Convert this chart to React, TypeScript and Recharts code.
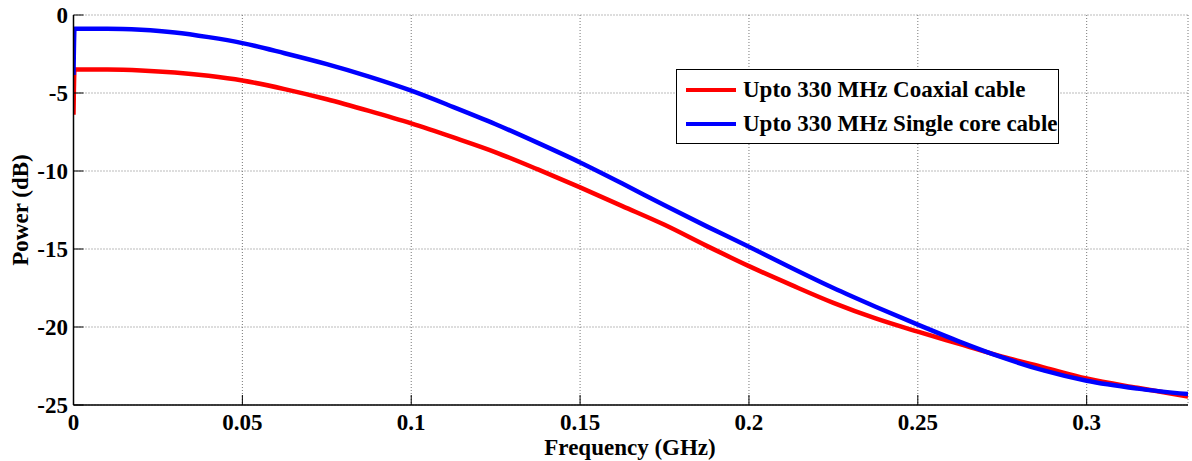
import { CartesianGrid, Legend, Line, LineChart, XAxis, YAxis } from 'recharts'

document.body.style.margin = '0'

const FONT = '"Liberation Serif", "Times New Roman", serif'

// frequency in GHz
const freq = [
  0, 0.0003, 0.01, 0.02, 0.03, 0.04, 0.05, 0.0625, 0.075, 0.0875, 0.1, 0.1125, 0.125, 0.1375, 0.15, 0.1625, 0.175,
  0.1875, 0.2, 0.2125, 0.225, 0.2375, 0.25, 0.2625, 0.275, 0.2875, 0.3, 0.315, 0.33,
]
// power in dB
const coaxial = [
  -6.4, -3.5, -3.5, -3.55, -3.68, -3.9, -4.2, -4.75, -5.4, -6.15, -6.95, -7.85, -8.8, -9.9, -11.05, -12.25, -13.45,
  -14.8, -16.1, -17.3, -18.45, -19.45, -20.3, -21.1, -21.9, -22.6, -23.3, -23.9, -24.45,
]
const singleCore = [
  -3.85, -0.88, -0.88, -0.95, -1.12, -1.42, -1.8, -2.45, -3.15, -3.95, -4.85, -5.9, -7.0, -8.2, -9.45, -10.8, -12.2,
  -13.55, -14.85, -16.2, -17.5, -18.7, -19.85, -20.95, -21.95, -22.8, -23.45, -23.95, -24.3,
]
const xTicks = [0, 0.05, 0.1, 0.15, 0.2, 0.25, 0.3]
const yTicks = [0, -5, -10, -15, -20, -25]

const seriesNames = ['Upto 330 MHz Coaxial cable', 'Upto 330 MHz Single core cable']
const seriesColors = ['#ff0000', '#0000ff']

const data = freq.map((f, i) => ({ f, coaxial: coaxial[i], single: singleCore[i] }))

const tickStyle = { fill: '#000', fontSize: 23, fontWeight: 'bold', fontFamily: FONT }

const LegendBox = () => (
  <div
    style={{
      boxSizing: 'border-box',
      width: 383,
      height: 75,
      border: '1.5px solid #000',
      background: '#fff',
      padding: '3px 0 0 9px',
      fontFamily: FONT,
      fontWeight: 'bold',
      fontSize: 23,
      color: '#000',
    }}
  >
    {seriesNames.map((name, i) => (
      <div key={name} style={{ display: 'flex', alignItems: 'center', height: 34 }}>
        <span style={{ display: 'inline-block', width: 50, height: 4, background: seriesColors[i], marginRight: 7 }} />
        <span style={{ whiteSpace: 'nowrap' }}>{name}</span>
      </div>
    ))}
  </div>
)

export default function App() {
  return (
    <div style={{ position: 'relative', width: 1192, height: 461, background: '#fff' }}>
      <LineChart width={1192} height={461} data={data} margin={{ top: 15, right: 4, left: 0, bottom: 0 }}>
        <CartesianGrid stroke="#777" strokeDasharray="1 2" />
        <XAxis
          dataKey="f"
          type="number"
          domain={[0, 0.33]}
          ticks={xTicks}
          allowDataOverflow
          height={56}
          tick={tickStyle}
          tickSize={-10}
          tickMargin={19}
          axisLine={{ stroke: '#000', strokeWidth: 1.5 }}
          tickLine={{ stroke: '#000' }}
          label={{
            content: () => (
              <text x={630} y={455} textAnchor="middle" fontFamily={FONT} fontWeight="bold" fontSize={23} fill="#000">
                Frequency (GHz)
              </text>
            ),
          }}
        />
        <XAxis
          xAxisId="top"
          orientation="top"
          dataKey="f"
          type="number"
          domain={[0, 0.33]}
          ticks={xTicks}
          height={0}
          tick={false}
          tickSize={-10}
          axisLine={{ stroke: '#000', strokeWidth: 1.5 }}
          tickLine={{ stroke: '#000' }}
        />
        <YAxis
          type="number"
          domain={[-25, 0]}
          ticks={yTicks}
          width={73.5}
          tick={tickStyle}
          tickSize={-10}
          tickMargin={15.5}
          axisLine={{ stroke: '#000', strokeWidth: 1.5 }}
          tickLine={{ stroke: '#000' }}
          label={{
            content: () => (
              <text
                x={28}
                y={210}
                transform="rotate(-90, 28, 210)"
                textAnchor="middle"
                fontFamily={FONT}
                fontWeight="bold"
                fontSize={23}
                fill="#000"
              >
                Power (dB)
              </text>
            ),
          }}
        />
        <YAxis
          yAxisId="right"
          orientation="right"
          type="number"
          domain={[-25, 0]}
          ticks={yTicks}
          width={0}
          tick={false}
          tickSize={-10}
          axisLine={{ stroke: '#000', strokeWidth: 1.5 }}
          tickLine={{ stroke: '#000' }}
        />
        <Legend
          layout="horizontal"
          verticalAlign="middle"
          align="center"
          content={() => <LegendBox />}
          wrapperStyle={{ position: 'absolute', left: 676, top: 69, width: 383, height: 75 }}
        />
        <Line
          type="monotone"
          dataKey="coaxial"
          name={seriesNames[0]}
          stroke={seriesColors[0]}
          strokeWidth={4.5}
          dot={false}
          isAnimationActive={false}
        />
        <Line
          type="monotone"
          dataKey="single"
          name={seriesNames[1]}
          stroke={seriesColors[1]}
          strokeWidth={4.5}
          dot={false}
          isAnimationActive={false}
        />
      </LineChart>
    </div>
  )
}
